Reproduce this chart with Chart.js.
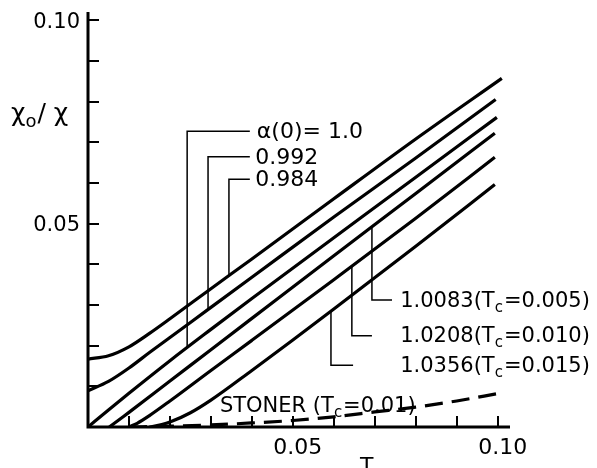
<!DOCTYPE html>
<html>
<head>
<meta charset="utf-8">
<script src="https://cdn.jsdelivr.net/npm/chart.js@4/dist/chart.umd.min.js"></script>
<style>
  html, body { margin: 0; padding: 0; background: #fff; }
  canvas { display: block; }
</style>
</head>
<body>
<canvas id="chi" width="597" height="468"></canvas>
<script>
// curve data: T and chi0/chi
const tA = [0, 0.005, 0.01, 0.015, 0.02, 0.03, 0.04, 0.06, 0.08, 0.101];
const chiA = [0.0167, 0.0175, 0.0197, 0.0230, 0.0266, 0.0340, 0.0413, 0.0561, 0.0708, 0.0857];
const tB = [0, 0.005, 0.01, 0.015, 0.02, 0.03, 0.04, 0.06, 0.08, 0.0995];
const chiB = [0.0089, 0.0112, 0.0145, 0.0183, 0.0220, 0.0294, 0.0368, 0.0516, 0.0661, 0.0805];
const tC = [0, 0.005, 0.01, 0.02, 0.03, 0.04, 0.06, 0.08, 0.0998];
const chiC = [0, 0.0042, 0.0083, 0.0163, 0.0240, 0.0316, 0.0465, 0.0614, 0.0761];
const tD = [0.0052, 0.008, 0.01, 0.02, 0.03, 0.04, 0.06, 0.08, 0.0993];
const chiD = [0, 0.0021, 0.0036, 0.0113, 0.0190, 0.0267, 0.0421, 0.0574, 0.0722];
const tE = [0.010, 0.012, 0.015, 0.02, 0.03, 0.04, 0.06, 0.08, 0.0993];
const chiE = [0, 0.0009, 0.0028, 0.0064, 0.0139, 0.0213, 0.0362, 0.0513, 0.0663];
const tF = [0.015, 0.018, 0.02, 0.025, 0.03, 0.04, 0.05, 0.06, 0.08, 0.0993];
const chiF = [0, 0.0006, 0.0012, 0.0035, 0.0066, 0.0139, 0.0214, 0.0290, 0.0444, 0.0596];
const tStoner = [0.01, 0.02, 0.03, 0.04, 0.05, 0.06, 0.07, 0.08, 0.09, 0.1];
const chiStoner = [0, 0.0002, 0.0005, 0.0010, 0.0016, 0.0025, 0.0037, 0.0049, 0.0064, 0.0082];

const xTicks = [0.01, 0.02, 0.03, 0.04, 0.05, 0.06, 0.07, 0.08, 0.09, 0.10];
const yTicks = [0.01, 0.02, 0.03, 0.04, 0.05, 0.06, 0.07, 0.08, 0.09, 0.10];
const xTickLabels = { '0.05': '0.05', '0.1': '0.10' };
const yTickLabels = { '0.05': '0.05', '0.1': '0.10' };

const curves = [[tA, chiA], [tB, chiB], [tC, chiC], [tD, chiD], [tE, chiE], [tF, chiF]];

const FONT = '"DejaVu Sans", sans-serif';

function pts(ts, vs) { return ts.map((t, i) => ({ x: t, y: vs[i] })); }

function interp(ts, vs, t) {
  for (let i = 1; i < ts.length; i++) {
    if (t <= ts[i]) {
      const f = (t - ts[i - 1]) / (ts[i] - ts[i - 1]);
      return vs[i - 1] + f * (vs[i] - vs[i - 1]);
    }
  }
  return vs[vs.length - 1];
}

// callouts: curve index, leader x (T), label level (chi), end of horizontal (T), text start (T)
const leaders = [
  { s: 2, t: 0.0242, y: 0.0727, tEnd: 0.0395, tLab: 0.0412, size: 22, parts: [['α(0)= 1.0']] },
  { s: 1, t: 0.0293, y: 0.0664, tEnd: 0.0395, tLab: 0.0408, size: 22, parts: [['0.992']] },
  { s: 0, t: 0.0344, y: 0.0609, tEnd: 0.0395, tLab: 0.0408, size: 22, parts: [['0.984']] },
  { s: 3, t: 0.0693, y: 0.0312, tEnd: 0.0742, tLab: 0.0762, size: 21, parts: [['1.0083(T'], ['c', 1], ['=0.005)']] },
  { s: 4, t: 0.0644, y: 0.0224, tEnd: 0.0693, tLab: 0.0762, size: 21, parts: [['1.0208(T'], ['c', 1], ['=0.010)']] },
  { s: 5, t: 0.0593, y: 0.0152, tEnd: 0.0647, tLab: 0.0762, size: 21, parts: [['1.0356(T'], ['c', 1], ['=0.015)']] }
];

function drawRich(ctx, parts, x, y, size) {
  ctx.textBaseline = 'middle';
  ctx.textAlign = 'left';
  parts.forEach(p => {
    const sub = p[1];
    ctx.font = (sub ? Math.round(size * 0.72) : size) + 'px ' + FONT;
    ctx.fillText(p[0], x, sub ? y + size * 0.32 : y);
    x += ctx.measureText(p[0]).width + (sub ? 1 : 0);
  });
}

const axesPlugin = {
  id: 'axes',
  afterDatasetsDraw(chart) {
    const { ctx, chartArea: a, scales: { x, y } } = chart;
    ctx.save();
    ctx.strokeStyle = '#000';
    ctx.fillStyle = '#000';
    ctx.lineWidth = 3;
    ctx.beginPath();
    ctx.moveTo(a.left, a.top);
    ctx.lineTo(a.left, a.bottom + 1.5);
    ctx.moveTo(a.left - 1.5, a.bottom);
    ctx.lineTo(a.right, a.bottom);
    ctx.stroke();
    ctx.lineWidth = 2;
    ctx.beginPath();
    yTicks.forEach(v => {
      const py = Math.round(y.getPixelForValue(v));
      ctx.moveTo(a.left, py);
      ctx.lineTo(a.left + 11, py);
    });
    xTicks.forEach(v => {
      const px = Math.round(x.getPixelForValue(v));
      ctx.moveTo(px, a.bottom);
      ctx.lineTo(px, a.bottom - 11);
    });
    ctx.stroke();
    ctx.font = '21px ' + FONT;
    ctx.textAlign = 'right';
    ctx.textBaseline = 'middle';
    yTicks.forEach(v => {
      const lab = yTickLabels[String(+v.toFixed(2))];
      if (lab) ctx.fillText(lab, a.left - 8, y.getPixelForValue(v) + 2);
    });
    ctx.font = '22px ' + FONT;
    ctx.textAlign = 'center';
    ctx.textBaseline = 'top';
    xTicks.forEach(v => {
      const lab = xTickLabels[String(+v.toFixed(2))];
      if (lab) ctx.fillText(lab, x.getPixelForValue(v) + 5, a.bottom + 10);
    });
    // axis titles
    ctx.fillText('T', x.getPixelForValue(0.068), a.bottom + 29);
    drawRich(ctx, [['χ'], ['o', 1], ['/ χ']], 11, 114, 25);
    ctx.restore();
  }
};

const leaderPlugin = {
  id: 'leaders',
  afterDatasetsDraw(chart) {
    const { ctx, scales: { x, y } } = chart;
    ctx.save();
    ctx.strokeStyle = '#000';
    ctx.fillStyle = '#000';
    ctx.lineWidth = 1.5;
    leaders.forEach(l => {
      const c = curves[l.s];
      const px = x.getPixelForValue(l.t);
      const pyCurve = y.getPixelForValue(interp(c[0], c[1], l.t));
      const pyLab = y.getPixelForValue(l.y);
      const pxEnd = x.getPixelForValue(l.tEnd);
      ctx.beginPath();
      ctx.moveTo(px, pyCurve);
      ctx.lineTo(px, pyLab);
      ctx.lineTo(pxEnd, pyLab);
      ctx.stroke();
      drawRich(ctx, l.parts, x.getPixelForValue(l.tLab), pyLab + 1, l.size);
    });
    // Stoner label
    drawRich(ctx, [['STONER (T'], ['c', 1], ['=0.01)']], x.getPixelForValue(0.0322), y.getPixelForValue(0.0050), 21);
    ctx.restore();
  }
};

const solid = (ts, vs) => ({
  data: pts(ts, vs),
  borderColor: '#000',
  borderWidth: 3.2,
  pointRadius: 0,
  cubicInterpolationMode: 'monotone',
  fill: false
});

new Chart(document.getElementById('chi'), {
  type: 'line',
  data: {
    datasets: [
      solid(tA, chiA), solid(tB, chiB), solid(tC, chiC),
      solid(tD, chiD), solid(tE, chiE), solid(tF, chiF),
      Object.assign(solid(tStoner, chiStoner), { borderDash: [18, 9] })
    ]
  },
  options: {
    responsive: false,
    animation: false,
    devicePixelRatio: 1,
    layout: { padding: { left: 88, top: 12, right: 87, bottom: 41 } },
    scales: {
      x: { type: 'linear', min: 0, max: 0.103, display: false },
      y: { type: 'linear', min: 0, max: 0.102, display: false }
    },
    plugins: { legend: { display: false }, tooltip: { enabled: false } }
  },
  plugins: [axesPlugin, leaderPlugin]
});
</script>
</body>
</html>
